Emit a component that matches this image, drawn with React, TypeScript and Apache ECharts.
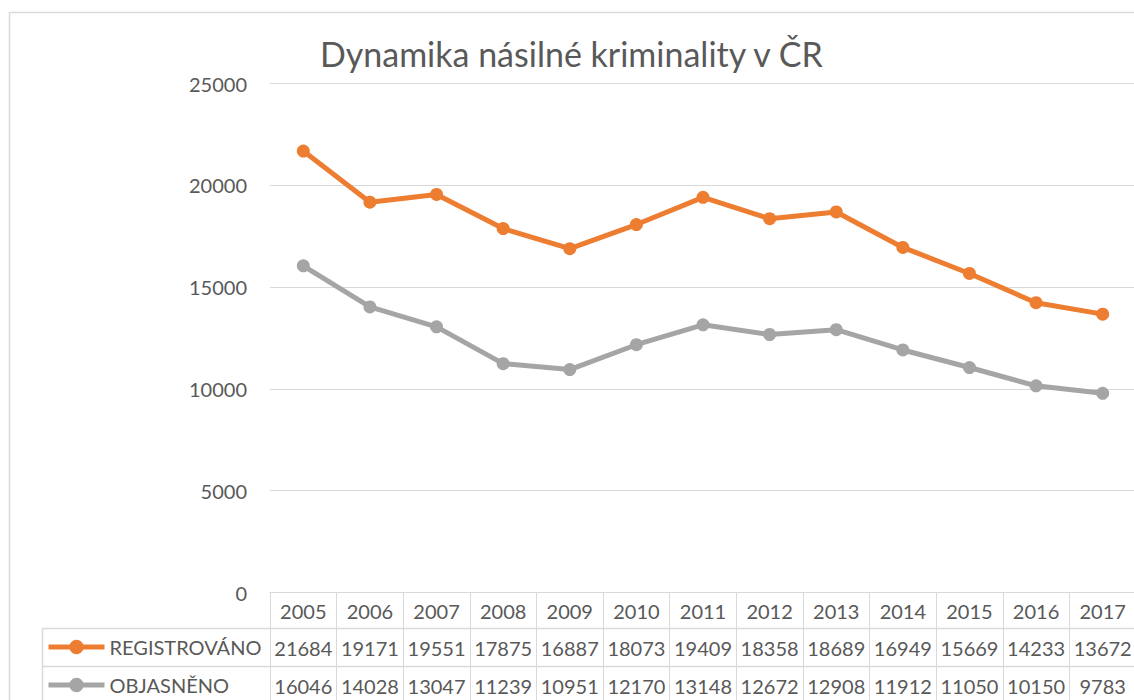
import React, { useEffect, useRef } from "react";
import * as echarts from "echarts";

const title = "Dynamika násilné kriminality v ČR";
const years = ["2005", "2006", "2007", "2008", "2009", "2010", "2011", "2012", "2013", "2014", "2015", "2016", "2017"];
const seriesNames = ["REGISTROVÁNO", "OBJASNĚNO"];
const registrovano = [21684, 19171, 19551, 17875, 16887, 18073, 19409, 18358, 18689, 16949, 15669, 14233, 13672];
const objasneno = [16046, 14028, 13047, 11239, 10951, 12170, 13148, 12672, 12908, 11912, 11050, 10150, 9783];
const yMin = 0;
const yMax = 25000;
const yStep = 5000;

const FONT = "Lato, 'Open Sans', sans-serif";
const TEXT = "#595959";
const GRID = "#d9d9d9";
const ORANGE = "#ED7D31";
const GRAY = "#A5A5A5";

export default function App() {
  const ref = useRef<HTMLDivElement>(null);
  useEffect(() => {
    if (!ref.current) return;
    const chart = echarts.init(ref.current, null, { renderer: "svg" });
    const W = 1136;
    const left = 270;
    const top = 83.5;
    const bottomY = 592.5;
    const row1 = 628.5;
    const row2 = 666.5;
    const tableLeft = 42.5;
    chart.setOption({
      animation: false,
      backgroundColor: "#ffffff",
      textStyle: { fontFamily: FONT },
      title: {
        text: title,
        left: 320,
        top: 33,
        padding: 0,
        textStyle: { fontFamily: FONT, fontSize: 34, fontWeight: "normal", color: TEXT, lineHeight: 40 },
      },
      grid: { left, right: 0, top, bottom: 700 - bottomY, containLabel: false },
      legend: {
        orient: "vertical",
        left: 46,
        top: 637,
        padding: 0,
        itemWidth: 56,
        itemHeight: 18,
        itemGap: 18,
        lineStyle: { width: 5 },
        textStyle: { fontFamily: FONT, fontSize: 20, color: TEXT, lineHeight: 20 },
        data: seriesNames,
      },
      xAxis: [
        {
          type: "category",
          data: years,
          boundaryGap: true,
          position: "bottom",
          axisLine: { show: true, lineStyle: { color: GRID, width: 1 } },
          axisTick: { show: true, interval: 0, length: 120, lineStyle: { color: GRID, width: 1 } },
          axisLabel: { fontFamily: FONT, fontSize: 20, color: TEXT, margin: 8, interval: 0 },
          splitLine: { show: false },
        },
        {
          type: "category",
          data: registrovano.map(String),
          position: "bottom",
          offset: row1 - bottomY,
          axisLine: { show: false },
          axisTick: { show: false },
          axisLabel: { fontFamily: FONT, fontSize: 20, color: TEXT, margin: 9, interval: 0 },
        },
        {
          type: "category",
          data: objasneno.map(String),
          position: "bottom",
          offset: row2 - bottomY,
          axisLine: { show: false },
          axisTick: { show: false },
          axisLabel: { fontFamily: FONT, fontSize: 20, color: TEXT, margin: 9, interval: 0 },
        },
      ],
      yAxis: {
        type: "value",
        min: yMin,
        max: yMax,
        interval: yStep,
        axisLine: { show: false },
        axisTick: { show: false },
        axisLabel: { fontFamily: FONT, fontSize: 20, color: TEXT, margin: 23, formatter: (v: number) => String(v) },
        splitLine: { show: true, lineStyle: { color: GRID, width: 1 } },
      },
      series: [
        {
          name: seriesNames[0],
          type: "line",
          data: registrovano,
          xAxisIndex: 0,
          symbol: "circle",
          symbolSize: 13,
          lineStyle: { color: ORANGE, width: 5 },
          itemStyle: { color: ORANGE },
        },
        {
          name: seriesNames[1],
          type: "line",
          data: objasneno,
          xAxisIndex: 0,
          symbol: "circle",
          symbolSize: 13,
          lineStyle: { color: GRAY, width: 5 },
          itemStyle: { color: GRAY },
        },
      ],
      graphic: [
        { type: "rect", shape: { x: 9.5, y: 12.5, width: 1200, height: 800 }, style: { fill: "none", stroke: GRID, lineWidth: 1.5 }, silent: true, z: -1 },
        { type: "line", shape: { x1: tableLeft, y1: row1, x2: W, y2: row1 }, style: { stroke: GRID, lineWidth: 1.5 } },
        { type: "line", shape: { x1: tableLeft, y1: row2, x2: W, y2: row2 }, style: { stroke: GRID, lineWidth: 1.5 } },
        { type: "line", shape: { x1: tableLeft, y1: row1, x2: tableLeft, y2: 710 }, style: { stroke: GRID, lineWidth: 1.5 } },
      ],
    });
    return () => chart.dispose();
  }, []);
  return (
    <div
      ref={ref}
      style={{ position: "fixed", left: 0, top: 0, width: 1136, height: 700, background: "#fff" }}
    />
  );
}
